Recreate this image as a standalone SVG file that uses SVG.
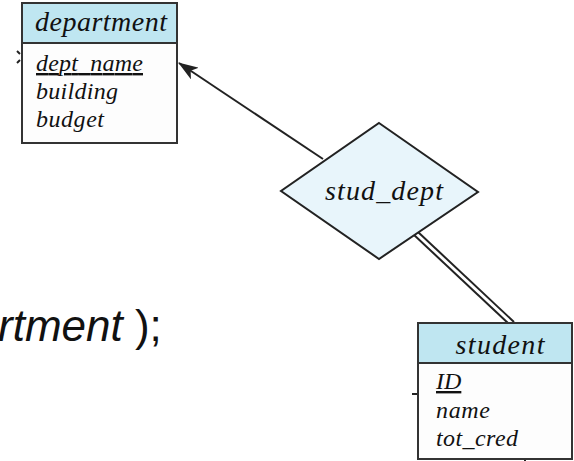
<svg xmlns="http://www.w3.org/2000/svg" width="574" height="461" viewBox="0 0 574 461">
<defs>
<style>
.box{fill:#fdfdfd;stroke:#333;stroke-width:2}
.hdr{fill:#bfe6f1;stroke:#333;stroke-width:2}
.ttl{font-family:"Liberation Serif",serif;font-style:italic;font-size:28px;fill:#111;text-anchor:middle}
.att{font-family:"Liberation Serif",serif;font-style:italic;font-size:24px;fill:#111}
.ln{stroke:#222;stroke-width:2;fill:none}
.dia{fill:#e8f5fb;stroke:#222;stroke-width:2}
.big{font-family:"Liberation Sans",sans-serif;font-size:44px;fill:#111}
</style>
<marker id="arr" viewBox="0 0 20 14" refX="19" refY="7" markerWidth="20" markerHeight="14" markerUnits="userSpaceOnUse" orient="auto">
<path d="M0,0 L20,7 L0,14 L5,7 Z" fill="#222"/>
</marker>
</defs>
<text class="big" x="-2" y="341"><tspan font-style="italic">rtment</tspan> );</text>
<g id="connectors">
<line class="ln" x1="323" y1="159" x2="179" y2="63" marker-end="url(#arr)"/>
<line class="ln" stroke-width="1.6" x1="413" y1="234" x2="509" y2="324"/>
<line class="ln" stroke-width="1.6" x1="418" y1="232" x2="514" y2="322"/>
<line class="ln" x1="412" y1="394" x2="418" y2="394"/>
<line class="ln" x1="525" y1="459" x2="525" y2="461"/>
<line class="ln" stroke-width="1.2" x1="17" y1="51" x2="20" y2="54"/>
<line class="ln" stroke-width="1.2" x1="17" y1="63" x2="20" y2="60"/>
</g>
<g id="department">
<rect class="box" x="22" y="3" width="155" height="140"/>
<rect class="hdr" x="22" y="3" width="155" height="40"/>
<text class="ttl" x="101" y="31" textLength="132">department</text>
<text class="att" x="36" y="71" textLength="107" text-decoration="underline">dept_name</text>
<text class="att" x="36" y="99" textLength="82">building</text>
<text class="att" x="36" y="127" textLength="68">budget</text>
</g>
<g id="stud_dept">
<polygon class="dia" points="379,123 478,192 379,259 281,191"/>
<text class="ttl" x="384" y="200" textLength="118">stud_dept</text>
</g>
<g id="student">
<rect class="box" x="418" y="323" width="154" height="136"/>
<rect class="hdr" x="418" y="323" width="154" height="40"/>
<text class="ttl" x="500" y="354" textLength="89">student</text>
<text class="att" x="436" y="389" text-decoration="underline">ID</text>
<text class="att" x="436" y="418" textLength="54">name</text>
<text class="att" x="436" y="446" textLength="82">tot_cred</text>
</g>
</svg>
